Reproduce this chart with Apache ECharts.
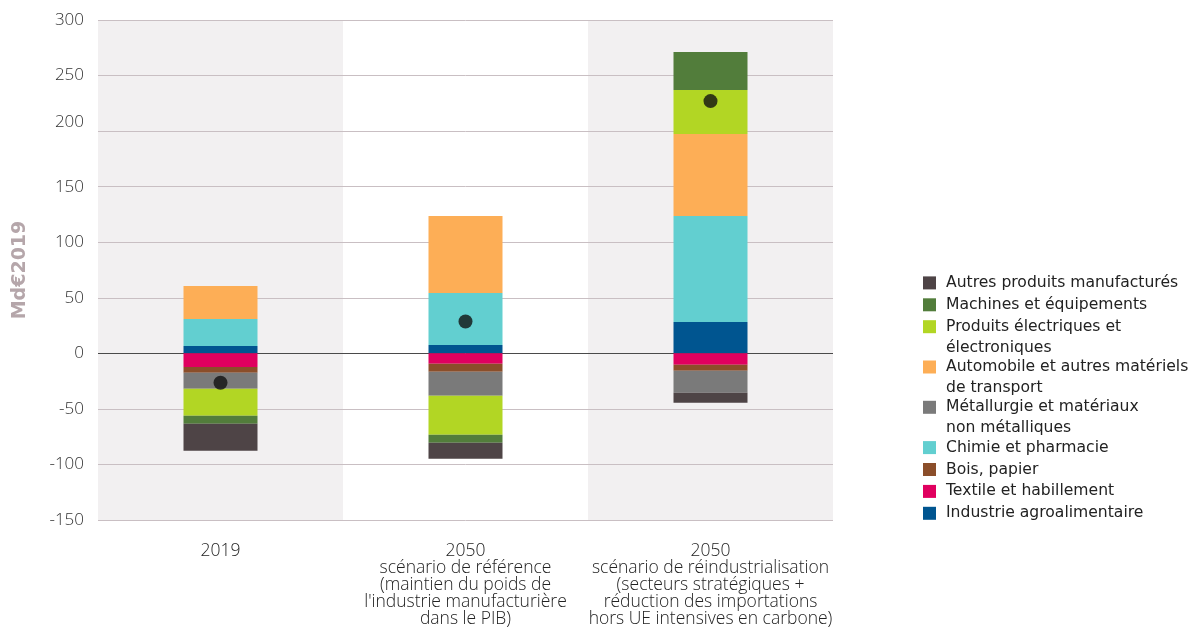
<!DOCTYPE html>
<html>
<head>
<meta charset="utf-8">
<script src="https://cdn.jsdelivr.net/npm/echarts@6/dist/echarts.min.js"></script>
<style>
  html, body { margin: 0; padding: 0; background: #ffffff; }
  #chart { width: 1192px; height: 632px; }
</style>
</head>
<body>
<div id="chart"></div>
<script>
// Scenario categories (x axis)
const categories = [
  '2019',
  '2050\nscénario de référence\n(maintien du poids de\nl\'industrie manufacturière\ndans le PIB)',
  '2050\nscénario de réindustrialisation\n(secteurs stratégiques +\nréduction des importations\nhors UE intensives en carbone)'
];

// Trade balance by sector, Md€2019 (one value per category)
const agroalimentaire = [6.7, 7.6, 28.3];
const textile = [-12.4, -9.4, -10.3];
const boisPapier = [-5.1, -7.2, -5.4];
const chimie = [24.3, 46.6, 95.4];
const metallurgie = [-14.4, -21.6, -19.8];
const automobile = [29.7, 69.5, 73.7];
const electrique = [-24.3, -35.1, 39.6];
const machines = [-7.2, -7.2, 34.2];
const autres = [-24.3, -14.4, -9.0];

// Overall balance (black dots)
const solde = [-26.5, 28.6, 227];

// Y axis ticks
const yTicks = { min: -150, max: 300, step: 50 };

// Sector names, colours and wrapped legend text (stacking order from zero outwards)
const sectors = [
  { name: 'Industrie agroalimentaire', data: agroalimentaire, color: '#005590', label: ['Industrie agroalimentaire'] },
  { name: 'Textile et habillement', data: textile, color: '#e0005f', label: ['Textile et habillement'] },
  { name: 'Bois, papier', data: boisPapier, color: '#8b4e2a', label: ['Bois, papier'] },
  { name: 'Chimie et pharmacie', data: chimie, color: '#62cfd0', label: ['Chimie et pharmacie'] },
  { name: 'Métallurgie et matériaux non métalliques', data: metallurgie, color: '#7a7a7a', label: ['Métallurgie et matériaux', 'non métalliques'] },
  { name: 'Automobile et autres matériels de transport', data: automobile, color: '#fdae56', label: ['Automobile et autres matériels', 'de transport'] },
  { name: 'Produits électriques et électroniques', data: electrique, color: '#b2d624', label: ['Produits électriques et', 'électroniques'] },
  { name: 'Machines et équipements', data: machines, color: '#527d3b', label: ['Machines et équipements'] },
  { name: 'Autres produits manufacturés', data: autres, color: '#4e4446', label: ['Autres produits manufacturés'] }
];

const LEGEND_LH = 20.8;
const LEGEND_FS = 15.6;
const labelByName = {};
sectors.forEach(s => {
  labelByName[s.name] = s.label.map(line => '{t|' + line + '}').join('\n');
});

const gridColor = '#c9bfc3';
const zeroColor = '#4a4a4a';
const splitColors = [];
for (let v = yTicks.min; v <= yTicks.max; v += yTicks.step) {
  splitColors.push(v === 0 ? zeroColor : gridColor);
}

const series = sectors.map(s => ({
  name: s.name,
  type: 'bar',
  stack: 'balance',
  barWidth: 74,
  data: s.data,
  itemStyle: { color: s.color },
  emphasis: { disabled: true },
  z: 2
}));

series.push({
  name: 'Solde',
  type: 'scatter',
  data: solde,
  symbol: 'circle',
  symbolSize: 14,
  itemStyle: { color: '#111111' },
  emphasis: { disabled: true },
  z: 5
});

const tickFont = { fontFamily: 'Open Sans', fontWeight: 300, fontSize: 17, color: '#333333' };

const chart = echarts.init(document.getElementById('chart'), null, { renderer: 'canvas' });
chart.setOption({
  animation: false,
  grid: { left: 98, right: 359, top: 20, bottom: 112, containLabel: false },
  legend: {
    orient: 'vertical',
    left: 923,
    top: 272.5,
    padding: 0,
    itemWidth: 13,
    itemHeight: 13,
    itemGap: 1.1,
    icon: 'rect',
    selectedMode: false,
    data: sectors.slice().reverse().map(s => ({
      name: s.name,
      textStyle: {
        // keep the icon level with the first line of a wrapped entry
        padding: [0, 0, -(s.label.length - 1) * LEGEND_LH, 5]
      }
    })),
    formatter: name => labelByName[name],
    textStyle: {
      fontFamily: 'DejaVu Sans',
      fontSize: LEGEND_FS,
      lineHeight: LEGEND_LH,
      color: '#222222',
      rich: {
        t: {
          fontFamily: 'DejaVu Sans',
          fontSize: LEGEND_FS,
          lineHeight: LEGEND_LH,
          color: '#222222'
        }
      }
    }
  },
  xAxis: {
    type: 'category',
    data: categories,
    z: 0,
    axisLine: { show: false },
    axisTick: { show: false },
    splitArea: { show: true, areaStyle: { color: ['#f2f0f1', '#ffffff'] } },
    axisLabel: {
      margin: 22.5,
      interval: 0,
      fontFamily: 'Open Sans',
      fontWeight: 300,
      fontSize: 17.5,
      lineHeight: 17,
      color: '#222222',
      align: 'center'
    }
  },
  yAxis: {
    type: 'value',
    min: yTicks.min,
    max: yTicks.max,
    interval: yTicks.step,
    z: 1,
    name: 'Md€2019',
    nameLocation: 'middle',
    nameRotate: 90,
    nameGap: 68,
    nameTextStyle: {
      fontFamily: 'DejaVu Sans',
      fontWeight: 'bold',
      fontSize: 19,
      color: '#b5a6aa'
    },
    axisLine: { show: false },
    axisTick: { show: false },
    axisLabel: Object.assign({
      margin: 14,
      // the 200 label sits a little above its grid line
      formatter: v => (v === 200 ? '{up|' + v + '}' : String(v)),
      rich: { up: Object.assign({ padding: [0, 0, 18, 0] }, tickFont) }
    }, tickFont),
    splitLine: { show: true, lineStyle: { color: splitColors, width: 1 } }
  },
  series: series
});
</script>
</body>
</html>
